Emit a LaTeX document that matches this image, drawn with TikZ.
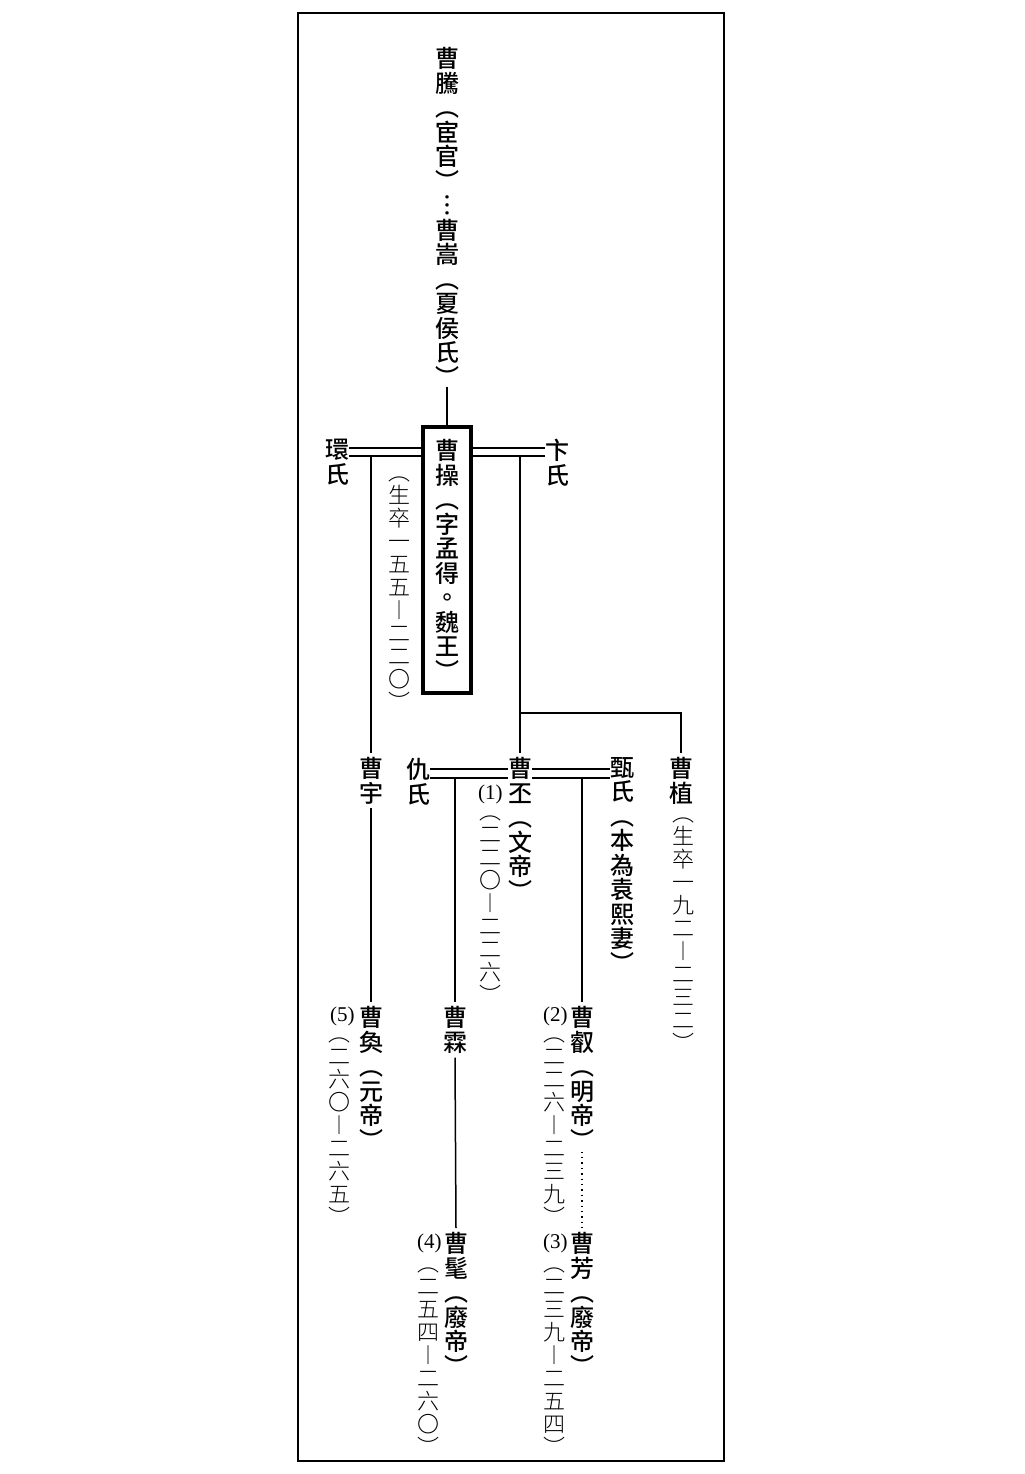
\documentclass[tikz,border=0pt]{standalone}
\usepackage{fontspec}
\newfontfamily\nmfont{Noto Sans CJK TC Medium}
\newfontfamily\dtfont{Noto Sans CJK TC Light}
\newfontfamily\numfont{Liberation Serif}
\makeatletter
\def\vtend{VTEND}
\def\vt#1{\vt@first#1\vtend}
\def\vt@first#1{#1\vt@loop}
\def\vt@loop#1{\ifx#1\vtend\else\\#1\expandafter\vt@loop\fi}
\makeatother
\tikzset{
  nm/.style={font=\nmfont\fontsize{12}{12.25}\selectfont, inner sep=0pt, align=center, anchor=north},
  dt/.style={font=\dtfont\fontsize{11}{11.5}\selectfont, inner sep=0pt, align=center, anchor=north},
  num/.style={font=\numfont\fontsize{10.5}{12}\selectfont, inner sep=0pt, anchor=east},
  ln/.style={line width=0.75pt},
  dbl/.style={line width=0.6pt},
  frame/.style={line width=1pt},
  mainbox/.style={draw, line width=2pt, minimum width=24pt, minimum height=133pt, inner sep=0pt, align=center,
    font=\nmfont\fontsize{12}{12.25}\selectfont},
}
\begin{document}
\begin{tikzpicture}[x=0.5pt,y=-0.5pt]
\useasboundingbox (0,0) rectangle (1024,1474);
\draw[frame] (298,13) rectangle (724,1461);
% helper levels
\coordinate (dA) at (0,448);
\coordinate (dB) at (0,456);
\coordinate (dC) at (0,769);
\coordinate (dD) at (0,778);
\coordinate (hz) at (0,713);
% generation 0
\node[nm] (teng) at (447,47) {\vt{曹騰︵宦官︶︙曹嵩︵夏侯氏︶}};
\node[mainbox] (cao) at (447,560) {\vt{曹操︵字孟得。魏王︶}};
\node[nm] (huan) at (337,439) {\vt{環氏}};
\node[nm] (bian) at (557,439) {\vt{卞氏}};
\node[dt] (caod) at (399,476) {\vt{︵生卒一五五︱二二〇︶}};
% generation 1
\node[nm] (yu) at (371,757) {\vt{曹宇}};
\node[nm] (qiu) at (418,758) {\vt{仇氏}};
\node[nm] (pi) at (520,757) {\vt{曹丕︵文帝︶}};
\node[num] (n1) at (503,794) {(1)};
\node[dt] (pid) at (490,815) {\vt{︵二二〇︱二二六︶}};
\node[nm] (zhen) at (622,757) {\vt{甄氏︵本為袁熙妻︶}};
\node[nm] (zhi) at (681,757) {\vt{曹植}};
\node[dt] (zhid) at (683,817) {\vt{︵生卒一九二︱二三二︶}};
% generation 2
\node[nm] (huanx) at (371,1006) {\vt{曹奐︵元帝︶}};
\node[num] (n5) at (355,1016) {(5)};
\node[dt] (huand) at (339,1037) {\vt{︵二六〇︱二六五︶}};
\node[nm] (lin) at (455,1006) {\vt{曹霖}};
\node[nm] (rui) at (582,1006) {\vt{曹叡︵明帝︶}};
\node[num] (n2) at (568,1016) {(2)};
\node[dt] (ruid) at (554,1037) {\vt{︵二二六︱二三九︶}};
% generation 3
\node[nm] (mao) at (456,1232) {\vt{曹髦︵廢帝︶}};
\node[num] (n4) at (442,1243) {(4)};
\node[dt] (maod) at (428,1267) {\vt{︵二五四︱二六〇︶}};
\node[nm] (fang) at (582,1232) {\vt{曹芳︵廢帝︶}};
\node[num] (n3) at (568,1243) {(3)};
\node[dt] (fangd) at (554,1267) {\vt{︵二三九︱二五四︶}};
% connectors
\draw[ln] (teng.south) -- (cao.north);
\draw[dbl] (huan.east |- dA) -- (cao.west |- dA);
\draw[dbl] (huan.east |- dB) -- (cao.west |- dB);
\draw[dbl] (cao.east |- dA) -- (bian.west |- dA);
\draw[dbl] (cao.east |- dB) -- (bian.west |- dB);
\draw[ln] (yu.north |- dB) -- ([yshift=2pt]yu.north);
\draw[ln] (pi.north |- dB) -- ([yshift=2pt]pi.north);
\draw[ln] (pi.north |- hz) -| ([yshift=2pt]zhi.north);
\draw[dbl] (qiu.east |- dC) -- (pi.west |- dC);
\draw[dbl] (qiu.east |- dD) -- (pi.west |- dD);
\draw[dbl] (pi.east |- dC) -- (zhen.west |- dC);
\draw[dbl] (pi.east |- dD) -- (zhen.west |- dD);
\draw[ln] (lin.north |- dD) -- ([yshift=2pt]lin.north);
\draw[ln] (rui.north |- dD) -- ([yshift=2pt]rui.north);
\draw[ln] ([yshift=-2pt]yu.south) -- ([yshift=2pt]huanx.north);
\draw[ln] ([yshift=-2pt]lin.south) -- ([yshift=2pt]mao.north);
\draw[line width=0.7pt, dotted] ([yshift=-1pt]rui.south) -- ([yshift=2pt]fang.north);
\end{tikzpicture}
\end{document}
